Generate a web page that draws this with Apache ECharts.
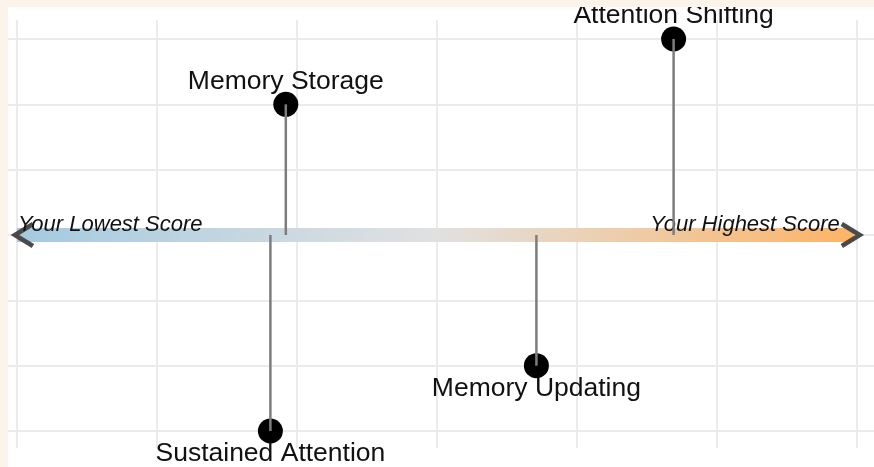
<!DOCTYPE html>
<html>
<head>
<meta charset="utf-8">
<script src="https://cdn.jsdelivr.net/npm/echarts@6/dist/echarts.min.js"></script>
<style>
html,body{margin:0;padding:0;background:#fff;}
#chart{width:874px;height:467px;}
</style>
</head>
<body>
<div id="chart"></div>
<script>
// ---- data ----
var domains = ['Memory Storage', 'Attention Shifting', 'Memory Updating', 'Sustained Attention'];
var xScores = [1.92, 4.69, 3.71, 1.81];
var yLevels = [2, 3, -2, -3];
var scaleEnds = [-0.015, 6.02];
var scaleLabels = ['Your Lowest Score', 'Your Highest Score'];
var xTicks = [0, 6];      // x grid range (interval 1)
var yTicks = [-3, 3];     // y grid range (interval 1)

var FONT = '"Liberation Sans", Arial, sans-serif';
var chart = echarts.init(document.getElementById('chart'), null, {renderer: 'canvas'});

var pointData = xScores.map(function (x, i) {
  return {
    value: [x, yLevels[i]],
    name: domains[i],
    label: {position: yLevels[i] > 0 ? 'top' : 'bottom'}
  };
});
var stemData = xScores.map(function (x, i) { return [x, yLevels[i]]; });

var pxPerUnit = 140;
var extra = 17 / pxPerUnit;

var option = {
  backgroundColor: '#ffffff',
  animation: false,
  grid: [
    {left: 17, right: 17, top: 20, bottom: 19},
    {left: 0, right: 0, top: 39, bottom: 36}
  ],
  xAxis: [
    {gridIndex: 0, type: 'value', min: xTicks[0], max: xTicks[1], interval: 1,
     axisLine: {show: false}, axisTick: {show: false}, axisLabel: {show: false},
     splitLine: {show: true, lineStyle: {color: '#ebebeb', width: 2}}},
    {gridIndex: 1, type: 'value', min: xTicks[0] - extra, max: xTicks[1] + extra,
     axisLine: {show: false}, axisTick: {show: false}, axisLabel: {show: false},
     splitLine: {show: false}}
  ],
  yAxis: [
    {gridIndex: 0, type: 'value', min: -1, max: 1,
     axisLine: {show: false}, axisTick: {show: false}, axisLabel: {show: false},
     splitLine: {show: false}},
    {gridIndex: 1, type: 'value', min: yTicks[0], max: yTicks[1], interval: 1,
     axisLine: {show: false}, axisTick: {show: false}, axisLabel: {show: false},
     splitLine: {show: true, lineStyle: {color: '#ebebeb', width: 2}}}
  ],
  series: [
    {
      type: 'custom', xAxisIndex: 1, yAxisIndex: 1, z: 2,
      data: [scaleEnds],
      renderItem: function (params, api) {
        var a = api.coord([api.value(0), 0]);
        var b = api.coord([api.value(1), 0]);
        var h = 14;
        var arm = 18, armY = 11;
        return {
          type: 'group',
          children: [
            {type: 'rect', shape: {x: a[0] + 2, y: a[1] - h / 2, width: b[0] - a[0] - 8, height: h},
             style: {fill: new echarts.graphic.LinearGradient(0, 0, 1, 0, [
               {offset: 0, color: '#a4cae0'},
               {offset: 0.5, color: '#e1e1e1'},
               {offset: 1, color: '#fdb466'}
             ])}},
            {type: 'polyline', shape: {points: [[a[0] + arm, a[1] - armY], [a[0], a[1]], [a[0] + arm, a[1] + armY]]},
             style: {stroke: '#4a4a4a', lineWidth: 4.5, fill: null, lineJoin: 'miter'}},
            {type: 'polyline', shape: {points: [[b[0] - arm, b[1] - armY], [b[0], b[1]], [b[0] - arm, b[1] + armY]]},
             style: {stroke: '#4a4a4a', lineWidth: 4.5, fill: null, lineJoin: 'miter'}},
            {type: 'text', z2: 10, style: {x: a[0] + 3, y: a[1] + 1, text: scaleLabels[0], textAlign: 'left', textVerticalAlign: 'bottom',
              font: 'italic 22px ' + FONT, fill: '#111111'}},
            {type: 'text', z2: 10, style: {x: b[0] - 20, y: b[1] + 1, text: scaleLabels[1], textAlign: 'right', textVerticalAlign: 'bottom',
              font: 'italic 22px ' + FONT, fill: '#111111'}}
          ]
        };
      }
    },
    {
      type: 'scatter', xAxisIndex: 1, yAxisIndex: 1, z: 3,
      symbol: 'circle', symbolSize: 25,
      itemStyle: {color: '#000000', opacity: 1},
      label: {show: true, formatter: '{b}', distance: -3, color: '#111111',
              fontSize: 26.5, fontFamily: FONT, opacity: 1},
      data: pointData
    },
    {
      type: 'custom', xAxisIndex: 1, yAxisIndex: 1, z: 4,
      data: stemData,
      renderItem: function (params, api) {
        var p0 = api.coord([api.value(0), 0]);
        var p1 = api.coord([api.value(0), api.value(1)]);
        return {type: 'line', shape: {x1: p0[0], y1: p0[1], x2: p1[0], y2: p1[1]},
                style: {stroke: '#7d7d7d', lineWidth: 2.5}};
      }
    }
  ],
  graphic: [
    {type: 'rect', z: 100, shape: {x: 0, y: 0, width: 874, height: 7}, style: {fill: '#fcf3ea'}},
    {type: 'rect', z: 100, shape: {x: 0, y: 0, width: 8, height: 467}, style: {fill: '#fcf3ea'}}
  ]
};
chart.setOption(option);
</script>
</body>
</html>
